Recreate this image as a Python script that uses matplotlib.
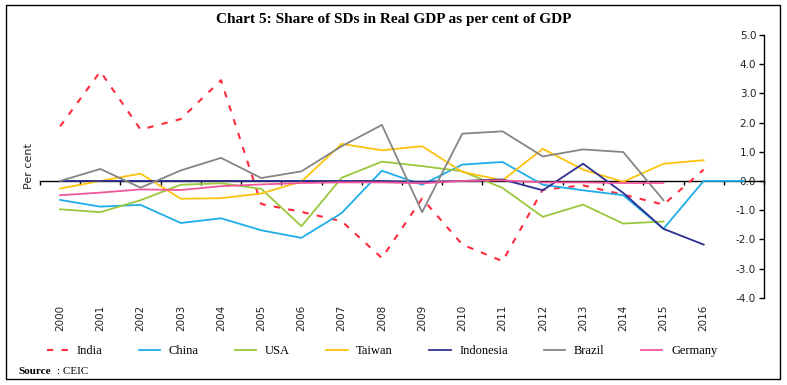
import matplotlib
matplotlib.use('Agg')
import matplotlib.pyplot as plt
import numpy as np

years = ['2000', '2001', '2002', '2003', '2004', '2005', '2006', '2007', '2008',
         '2009', '2010', '2011', '2012', '2013', '2014', '2015', '2016', '']

# share of SDs in real GDP (per cent); None = no value
india = [1.87, 3.75, 1.76, 2.12, 3.45, -0.79, -1.06, -1.38, -2.64, -0.60,
         -2.18, -2.75, -0.30, -0.15, -0.47, -0.81, 0.39, None]
china = [-0.65, -0.88, -0.82, -1.44, -1.28, -1.69, -1.95, -1.10, 0.35, -0.13,
         0.56, 0.65, -0.13, -0.32, -0.49, -1.64, 0.0, 0.0]
usa = [-0.97, -1.07, -0.66, -0.13, -0.08, -0.27, -1.55, 0.11, 0.66, 0.51,
       0.33, -0.24, -1.23, -0.81, -1.46, -1.39, None, None]
taiwan = [-0.26, 0.0, 0.25, -0.61, -0.59, -0.43, -0.02, 1.27, 1.05, 1.19,
          0.31, 0.02, 1.10, 0.39, -0.03, 0.59, 0.71, None]
indonesia = [0.0, 0.0, 0.0, 0.0, 0.0, 0.0, 0.0, 0.0, 0.0, -0.03,
             0.0, 0.05, -0.32, 0.59, -0.41, -1.64, -2.18, None]
brazil = [0.0, 0.41, -0.23, 0.36, 0.79, 0.10, 0.33, 1.19, 1.92, -1.07,
          1.62, 1.70, 0.84, 1.08, 0.99, -0.66, None, None]
germany = [-0.49, -0.40, -0.29, -0.31, -0.18, -0.12, -0.07, -0.05, -0.05, -0.08,
           0.0, 0.02, -0.05, -0.05, -0.07, -0.07, None, None]

series = [
    ('India', india, '#FF2B3D', (0, (3, 4)), 1.5),
    ('China', china, '#1FADEA', '-', 1.3),
    ('USA', usa, '#9AC73B', '-', 1.3),
    ('Taiwan', taiwan, '#FFC20E', '-', 1.3),
    ('Indonesia', indonesia, '#2E3192', '-', 1.3),
    ('Brazil', brazil, '#858585', '-', 1.3),
    ('Germany', germany, '#F0569A', '-', 1.3),
]

fig = plt.figure(figsize=(7.87, 3.85), dpi=100)
ax = fig.add_axes([40 / 787, 1 - 297.7 / 385, 724 / 787, (297.7 - 35) / 385])

x = np.arange(len(years))
for name, vals, col, ls, lw in series:
    y = np.array([np.nan if v is None else v for v in vals], dtype=float)
    ax.plot(x, y, color=col, linestyle=ls, linewidth=lw, label=name, zorder=3)

ax.set_xlim(-0.5, len(years) - 0.5)
ax.set_ylim(-4, 5)

# y axis sits on the right, labels on its left side
ax.spines['top'].set_visible(False)
ax.spines['right'].set_visible(False)
ax.spines['left'].set_position(('axes', 1.0))
ax.spines['bottom'].set_position(('data', 0))
ax.spines['left'].set_linewidth(1.0)
ax.spines['bottom'].set_linewidth(1.0)
ax.spines['bottom'].set_zorder(2)

ax.set_yticks(np.arange(-4, 5.1, 1))
ax.set_yticklabels(['%.1f' % v for v in np.arange(-4, 5.1, 1)])
ax.tick_params(axis='y', direction='out', length=3.6, width=1.0, pad=2,
               labelsize=7.5, labelcolor='#222222')

ax.set_xticks(np.arange(-0.5, len(years), 1))
ax.set_xticklabels([])
ax.tick_params(axis='x', direction='out', length=2.8, width=1.0)

for i, lab in enumerate(years):
    ax.text(i, -0.028, lab, transform=ax.get_xaxis_transform(), rotation=90,
            ha='center', va='top', fontsize=7.5, color='#222222')

ax.text(-0.008, 0.5, 'Per cent', transform=ax.transAxes, rotation=90,
        ha='right', va='center', fontsize=8, color='#222222')

fig.text(0.5, 1 - 20 / 385, 'Chart 5: Share of SDs in Real GDP as per cent of GDP',
         ha='center', va='center', fontsize=11, fontweight='bold',
         family='Liberation Serif')

fig.legend(loc='center', bbox_to_anchor=(382 / 787, 1 - 351 / 385), ncol=7,
           frameon=False, handlelength=1.7, columnspacing=2.9, handletextpad=0.7,
           prop={'family': 'Liberation Serif', 'size': 9})

fig.text(18 / 787, 1 - 372 / 385, 'Source', ha='left', va='center', fontsize=8,
         fontweight='bold', family='Liberation Serif')
fig.text(57 / 787, 1 - 372 / 385, ': CEIC', ha='left', va='center', fontsize=8,
         family='Liberation Serif')

# outer frame
border = plt.Rectangle((6 / 787, 1 - 379 / 385), 774 / 787, 374 / 385,
                       transform=fig.transFigure, fill=False, edgecolor='black',
                       linewidth=1.0)
fig.patches.append(border)

fig.savefig('out.png', dpi=100)
